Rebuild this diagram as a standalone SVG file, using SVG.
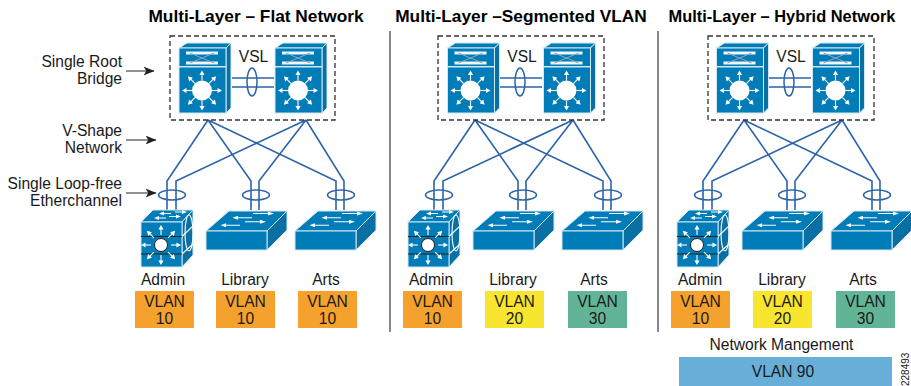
<svg xmlns="http://www.w3.org/2000/svg" width="911" height="386" viewBox="0 0 911 386">
<style>
text{font-family:"Liberation Sans",Arial,sans-serif;font-size:15.6px;fill:#1a1a1a}
.t{font-weight:bold;font-size:17.3px;fill:#000;text-anchor:middle}
.r{text-anchor:end}
.m{text-anchor:middle}
.link{fill:none;stroke:#2b64a8;stroke-width:1.6}
.ring{fill:none;stroke:#2b64a8;stroke-width:1.5}
.box{fill:none;stroke:#333;stroke-width:1.3;stroke-dasharray:5 3}
.div{stroke:#555;stroke-width:1.4}
.call{stroke:#555;stroke-width:1.3;fill:none;marker-end:url(#ah)}
.f{fill:#007cb8;stroke:#cfe8f4;stroke-width:1}
.s{fill:#0a6fa3;stroke:#cfe8f4;stroke-width:1}
.w{fill:none;stroke:#fff;stroke-width:1.1}
.hw{fill:#fff}
.o{fill:#f4a12d}.y{fill:#f7e52f}.g{fill:#62b497}.b{fill:#67afd8}
</style>
<defs>
<marker id="ah" viewBox="0 0 10 8" refX="9.500" refY="4" markerWidth="11" markerHeight="9" markerUnits="userSpaceOnUse" orient="auto"><path d="M0 0L10 4L0 8L2.500 4Z" fill="#222"/></marker>
<g id="spoke"><path class="w" d="M10 0H17"/><path class="hw" d="M20 0L15.500 -2.600V2.600Z"/></g>
<g id="core">
<path class="f" d="M0 5L8 0H52L47 5Z"/>
<path class="s" d="M47 5L52 0V65L47 70Z"/>
<rect class="f" x="0" y="5" width="47" height="18.500"/>
<rect class="f" x="0" y="24" width="47" height="46"/>
<path d="M7 10H39M7 20H39" stroke="#f2f6f8" stroke-width="2.800" fill="none"/>
<path d="M11 10L35 20M35 10L11 20" stroke="#8fa6b4" stroke-width="1" fill="none"/>
<circle cx="23" cy="47.500" r="10" fill="#fff"/>
<use href="#spoke" transform="translate(23 47.500)"/>
<use href="#spoke" transform="translate(23 47.500) rotate(45)"/>
<use href="#spoke" transform="translate(23 47.500) rotate(90)"/>
<use href="#spoke" transform="translate(23 47.500) rotate(135)"/>
<use href="#spoke" transform="translate(23 47.500) rotate(180)"/>
<use href="#spoke" transform="translate(23 47.500) rotate(225)"/>
<use href="#spoke" transform="translate(23 47.500) rotate(270)"/>
<use href="#spoke" transform="translate(23 47.500) rotate(315)"/>
</g>
<g id="sw">
<path class="f" d="M0 20L23 0H81L61 20Z"/>
<path class="s" d="M61 20L81 0V19L61 39Z"/>
<rect class="f" x="0" y="20" width="61" height="19"/>
<path class="w" d="M47 2.500H64M30 6.700H46M39 10.700H56M18 14.300H34" stroke-width="1"/>
<path class="hw" d="M68 2.500L62 0.500V4.500ZM26.500 6.700L32 4.700V8.700ZM60 10.700L54 8.700V12.700ZM14.500 14.300L20 12.300V16.300Z"/>
</g>
<g id="l3">
<path class="f" d="M0 12L12 0H52L41 12Z"/>
<path class="s" d="M41 12L52 0V45L41 57Z"/>
<rect class="f" x="0" y="12" width="41" height="45"/>
<path d="M0 26.500H41M0 44H41" stroke="#222" stroke-width="1.200"/>
<path d="M41 26.500L52 16M41 44L52 34" stroke="#e8f2f7" stroke-width="1.200" fill="none"/>
<ellipse class="w" cx="48" cy="23" rx="4" ry="18" stroke-width="1.100"/>
<path class="w" d="M22 3.500H30M34 2H43M17 8H25M28 6.500H37" stroke-width="1"/>
<path class="hw" d="M18 3.500L23 1.500V5.500ZM46 2L41 0V4ZM13 8L18 6V10ZM40 6.500L35 4.500V8.500Z"/>
<g transform="translate(20 35)">
<use href="#spoke"/><use href="#spoke" transform="rotate(45)"/><use href="#spoke" transform="rotate(90)"/><use href="#spoke" transform="rotate(135)"/><use href="#spoke" transform="rotate(180)"/><use href="#spoke" transform="rotate(225)"/><use href="#spoke" transform="rotate(270)"/><use href="#spoke" transform="rotate(315)"/>
<circle r="6.500" fill="#fff" stroke="#222" stroke-width="1"/>
</g>
</g>
<g id="links">
<path class="link" d="M208 120L167 181V210M208 120L251 181V210M208 120L336 181V210M306 120L176 181V210M306 120L259 181V210M306 120L344 181V210"/>
<ellipse class="ring" cx="172" cy="195" rx="13.500" ry="5"/>
<ellipse class="ring" cx="256" cy="195" rx="13.500" ry="5"/>
<ellipse class="ring" cx="341" cy="195" rx="13.500" ry="5"/>
</g>
<g id="vsl">
<path d="M232 78H274M232 87H274" stroke="#2b64a8" stroke-width="1.600" fill="none"/>
<ellipse class="ring" cx="252" cy="82" rx="5" ry="14"/>
</g>
</defs>

<g id="titles">
<text class="t" x="256" y="22">Multi-Layer – Flat Network</text>
<text class="t" x="521" y="22">Multi-Layer –Segmented VLAN</text>
<text class="t" x="782" y="22" style="font-size:16.4px">Multi-Layer – Hybrid Network</text>
</g>
<g id="dividers">
<path class="div" d="M390 31V332M658 31V332"/>
</g>
<g id="callouts">
<text class="r" x="122" y="66.500">Single Root</text>
<text class="r" x="122" y="84">Bridge</text>
<path class="call" d="M126 71H154"/>
<text class="r" x="122" y="136">V-Shape</text>
<text class="r" x="122" y="153">Network</text>
<path class="call" d="M126 140H156"/>
<text class="r" x="122" y="188.500">Single Loop-free</text>
<text class="r" x="122" y="206">Etherchannel</text>
<path class="call" d="M126 193H156"/>
</g>

<g id="connectors">
<use href="#links"/>
<use href="#links" x="267"/>
<use href="#links" x="536"/>
<use href="#vsl"/>
<use href="#vsl" x="268"/>
<use href="#vsl" x="537"/>
</g>

<g id="root-box-1"><rect class="box" x="170" y="36" width="165" height="84"/><text class="m" x="253.500" y="62">VSL</text></g>
<g id="root-box-2"><rect class="box" x="438" y="36" width="166" height="84"/><text class="m" x="522" y="62">VSL</text></g>
<g id="root-box-3"><rect class="box" x="708" y="36" width="166" height="84"/><text class="m" x="791" y="62">VSL</text></g>

<g id="core-1a"><use href="#core" x="179" y="43"/></g>
<g id="core-1b"><use href="#core" x="275" y="43"/></g>
<g id="core-2a"><use href="#core" x="447.500" y="43"/></g>
<g id="core-2b"><use href="#core" x="543.500" y="43"/></g>
<g id="core-3a"><use href="#core" x="716.500" y="43"/></g>
<g id="core-3b"><use href="#core" x="812.500" y="43"/></g>

<g id="admin-1"><use href="#l3" x="141" y="210"/><text class="m" x="163" y="285">Admin</text></g>
<g id="library-1"><use href="#sw" x="206" y="211"/><text class="m" x="245" y="285">Library</text></g>
<g id="arts-1"><use href="#sw" x="295" y="211"/><text class="m" x="326" y="285">Arts</text></g>
<g id="admin-2"><use href="#l3" x="408" y="210"/><text class="m" x="431" y="285">Admin</text></g>
<g id="library-2"><use href="#sw" x="473" y="211"/><text class="m" x="513" y="285">Library</text></g>
<g id="arts-2"><use href="#sw" x="562" y="211"/><text class="m" x="594" y="285">Arts</text></g>
<g id="admin-3"><use href="#l3" x="677" y="210"/><text class="m" x="700" y="285">Admin</text></g>
<g id="library-3"><use href="#sw" x="742" y="211"/><text class="m" x="782" y="285">Library</text></g>
<g id="arts-3"><use href="#sw" x="831" y="211"/><text class="m" x="863" y="285">Arts</text></g>

<g id="vlan-1a"><rect class="o" x="135" y="291" width="59" height="37"/><text class="m" x="164.500" y="307">VLAN</text><text class="m" x="164.500" y="324">10</text></g>
<g id="vlan-1b"><rect class="o" x="216" y="291" width="59" height="37"/><text class="m" x="245.500" y="307">VLAN</text><text class="m" x="245.500" y="324">10</text></g>
<g id="vlan-1c"><rect class="o" x="298" y="291" width="59" height="37"/><text class="m" x="327.500" y="307">VLAN</text><text class="m" x="327.500" y="324">10</text></g>
<g id="vlan-2a"><rect class="o" x="403" y="291" width="59" height="37"/><text class="m" x="432.500" y="307">VLAN</text><text class="m" x="432.500" y="324">10</text></g>
<g id="vlan-2b"><rect class="y" x="485" y="291" width="59" height="37"/><text class="m" x="514.500" y="307">VLAN</text><text class="m" x="514.500" y="324">20</text></g>
<g id="vlan-2c"><rect class="g" x="568" y="291" width="59" height="37"/><text class="m" x="597.500" y="307">VLAN</text><text class="m" x="597.500" y="324">30</text></g>
<g id="vlan-3a"><rect class="o" x="671" y="291" width="59" height="37"/><text class="m" x="700.500" y="307">VLAN</text><text class="m" x="700.500" y="324">10</text></g>
<g id="vlan-3b"><rect class="y" x="753" y="291" width="59" height="37"/><text class="m" x="782.500" y="307">VLAN</text><text class="m" x="782.500" y="324">20</text></g>
<g id="vlan-3c"><rect class="g" x="836" y="291" width="59" height="37"/><text class="m" x="865.500" y="307">VLAN</text><text class="m" x="865.500" y="324">30</text></g>

<g id="mgmt">
<text class="m" x="781.500" y="350">Network Mangement</text>
<rect class="b" x="679" y="357" width="213" height="29"/>
<text class="m" x="783" y="377">VLAN 90</text>
</g>
<text id="figure-number" transform="translate(909 386) rotate(-90)" style="font-size:10px">228493</text>
</svg>
